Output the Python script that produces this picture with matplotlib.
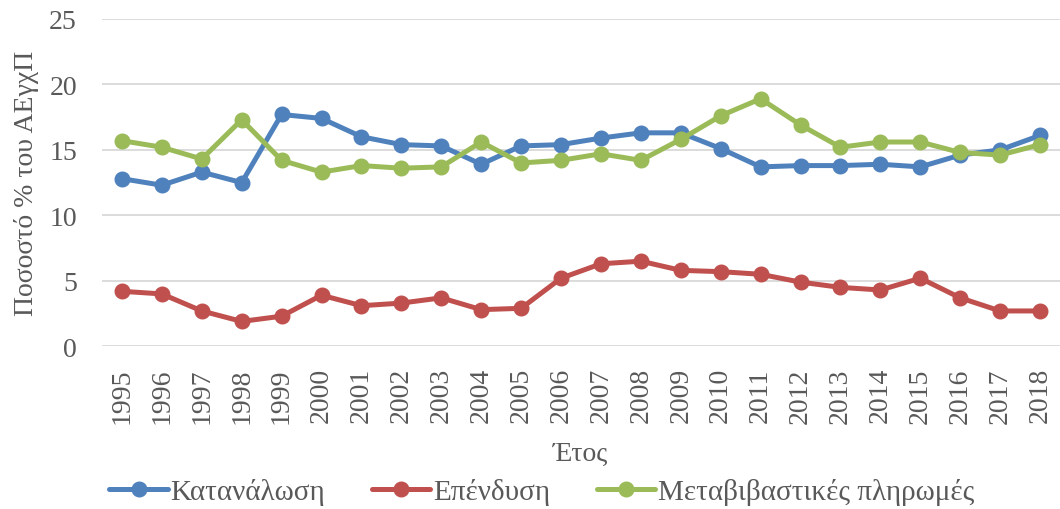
import numpy as np
import matplotlib
matplotlib.use('Agg')
import matplotlib.pyplot as plt

plt.rcParams['font.family'] = ['Liberation Serif', 'DejaVu Serif']

years = [str(y) for y in range(1995, 2019)]
katanalosi = [12.8, 12.3, 13.3, 12.5, 17.7, 17.4, 16.0, 15.4, 15.3, 13.9, 15.3, 15.4,
              15.9, 16.3, 16.3, 15.1, 13.7, 13.8, 13.8, 13.9, 13.7, 14.6, 15.0, 16.1]
ependysi = [4.2, 4.0, 2.7, 1.9, 2.3, 3.9, 3.1, 3.3, 3.7, 2.8, 2.9, 5.2,
            6.3, 6.5, 5.8, 5.7, 5.5, 4.9, 4.5, 4.3, 5.2, 3.7, 2.7, 2.7]
metavivastikes = [15.7, 15.2, 14.3, 17.3, 14.2, 13.3, 13.8, 13.6, 13.7, 15.6, 14.0, 14.2,
                  14.7, 14.2, 15.8, 17.6, 18.9, 16.9, 15.2, 15.6, 15.6, 14.8, 14.6, 15.4]

txt = '#595959'
fig = plt.figure(figsize=(10.6, 5.1), dpi=100)
ax = fig.add_axes([0.0962, 0.319, 0.9038, 0.642])

x = np.arange(len(years))
series = [(katanalosi, '#4F81BD', 'Κατανάλωση'),
          (ependysi, '#C0504D', 'Επένδυση'),
          (metavivastikes, '#9BBB59', 'Μεταβιβαστικές πληρωμές')]
for vals, c, lab in series:
    ax.plot(x, vals, color=c, lw=3.6, marker='o', ms=10.5, label=lab,
            solid_capstyle='round')

ax.set_xlim(-0.5, len(years) - 0.5)
ax.set_ylim(0, 25)
ax.set_yticks(range(0, 26, 5))
ax.set_xticks(x)
ax.set_xticklabels(years, rotation=90)
ax.grid(axis='y', color='#D9D9D9', lw=1.3)
ax.set_axisbelow(True)
for s in ax.spines.values():
    s.set_visible(False)
ax.tick_params(axis='both', length=0, labelsize=20, colors=txt)
ax.tick_params(axis='y', pad=18)
ax.tick_params(axis='x', pad=15)

ax.set_ylabel('Ποσοστό % του ΑΕγχΠ', fontsize=20, color=txt, labelpad=7)
ax.set_xlabel('Έτος', fontsize=20, color=txt, labelpad=13)

fig.legend(loc='center', bbox_to_anchor=(542 / 1060, 1 - 493 / 510), ncol=3,
           frameon=False, fontsize=21, labelcolor=txt, handlelength=2.0,
           handletextpad=0.1, columnspacing=1.6, borderaxespad=0)

fig.savefig('out.png', dpi=100)
